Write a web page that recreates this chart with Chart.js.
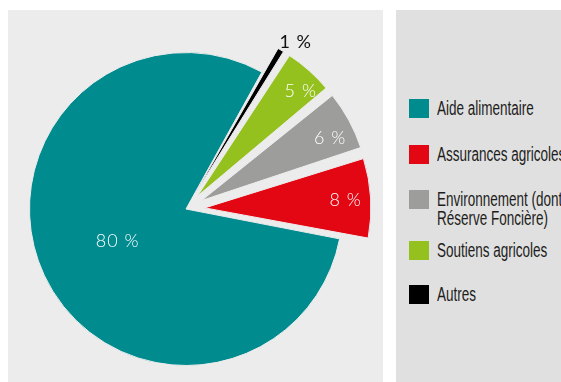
<!DOCTYPE html>
<html>
<head>
<meta charset="utf-8">
<script src="https://cdn.jsdelivr.net/npm/chart.js@4.4.1/dist/chart.umd.min.js"></script>
<style>
html, body { margin: 0; padding: 0; background: #fff; width: 561px; height: 382px; overflow: hidden; }
#pie-panel { position: absolute; left: 8px; top: 10px; width: 375px; height: 372px; background: #ececec; }
#legend-panel { position: absolute; left: 396px; top: 10px; width: 165px; height: 372px; background: #e0e0e0; overflow: hidden; }
.item { position: absolute; left: 13px; }
.swatch { position: absolute; left: 0; top: 0; width: 20px; height: 19px; }
.txt { position: absolute; left: 28px; top: 0; white-space: nowrap; color: #1d1d1b;
       font-family: "Liberation Sans", Arial, sans-serif;
       font-size: 20px; line-height: 19px; transform-origin: 0 0; transform: scaleX(0.675); }
</style>
</head>
<body>
<div id="pie-panel"><canvas id="pie-chart" width="375" height="372"></canvas></div>
<div id="legend-panel"></div>
<script>
const categories = [
    'Aide alimentaire',
    'Assurances agricoles',
    ['Environnement (dont', 'Réserve Foncière)'],
    'Soutiens agricoles',
    'Autres'
];
const shares = [80, 8, 6, 5, 1];
const shareLabels = ['80 %', '8 %', '6 %', '5 %', '1 %'];

const sliceColors = ['#008b8f', '#e30613', '#9d9d9c', '#95c11f', '#000000'];
const sliceOffsets = [0, 75, 71, 68, 59];

// the pie goes clockwise: teal first, then Autres back round to Assurances
const drawOrder = [0, 4, 3, 2, 1];

// where each percent sits, as a share of the radius (+ a small turn in degrees)
const labelPlacement = [
    { dist: 0.482, turn: 0 },
    { dist: 1.021, turn: 0.4 },
    { dist: 1.027, turn: 2.4 },
    { dist: 1.05, turn: 2.7 },
    { dist: 1.277, turn: 2.5 }
];

const percentLabels = {
    id: 'percentLabels',
    afterDatasetsDraw(chart) {
        const ctx = chart.ctx;
        const arcs = chart.getDatasetMeta(0).data;
        ctx.save();
        ctx.textAlign = 'center';
        ctx.textBaseline = 'middle';
        ctx.letterSpacing = '1px';
        arcs.forEach((arc, i) => {
            const k = drawOrder[i];
            const p = labelPlacement[k];
            const mid = (arc.startAngle + arc.endAngle) / 2 + p.turn * Math.PI / 180;
            const r = arc.outerRadius * p.dist;
            ctx.font = (k === 4 ? '400' : '300') + ' 18px Lato';
            ctx.fillStyle = k === 4 ? '#111111' : '#ffffff';
            ctx.fillText(shareLabels[k], arc.x + Math.cos(mid) * r, arc.y + Math.sin(mid) * r);
        });
        ctx.restore();
    }
};

new Chart(document.getElementById('pie-chart'), {
    type: 'pie',
    data: {
        labels: drawOrder.map(i => categories[i]),
        datasets: [{
            data: drawOrder.map(i => shares[i]),
            backgroundColor: drawOrder.map(i => sliceColors[i]),
            offset: drawOrder.map(i => sliceOffsets[i]),
            borderColor: '#ececec',
            borderWidth: 1,
            clip: false
        }]
    },
    options: {
        responsive: false,
        animation: false,
        rotation: 101,
        radius: 156.5,
        layout: { padding: { left: 0, right: 19, top: 26, bottom: 0 } },
        plugins: {
            legend: { display: false },
            tooltip: { enabled: false }
        }
    },
    plugins: [percentLabels]
});

// legend in the right hand panel
const legendTops = [89, 135, 180, 231, 275];
const legendPanel = document.getElementById('legend-panel');
categories.forEach((cat, i) => {
    const item = document.createElement('div');
    item.className = 'item';
    item.style.top = legendTops[i] + 'px';
    const sw = document.createElement('div');
    sw.className = 'swatch';
    sw.style.background = sliceColors[i];
    const txt = document.createElement('div');
    txt.className = 'txt';
    txt.innerHTML = [].concat(cat).join('<br>');
    item.appendChild(sw);
    item.appendChild(txt);
    legendPanel.appendChild(item);
});
</script>
</body>
</html>
